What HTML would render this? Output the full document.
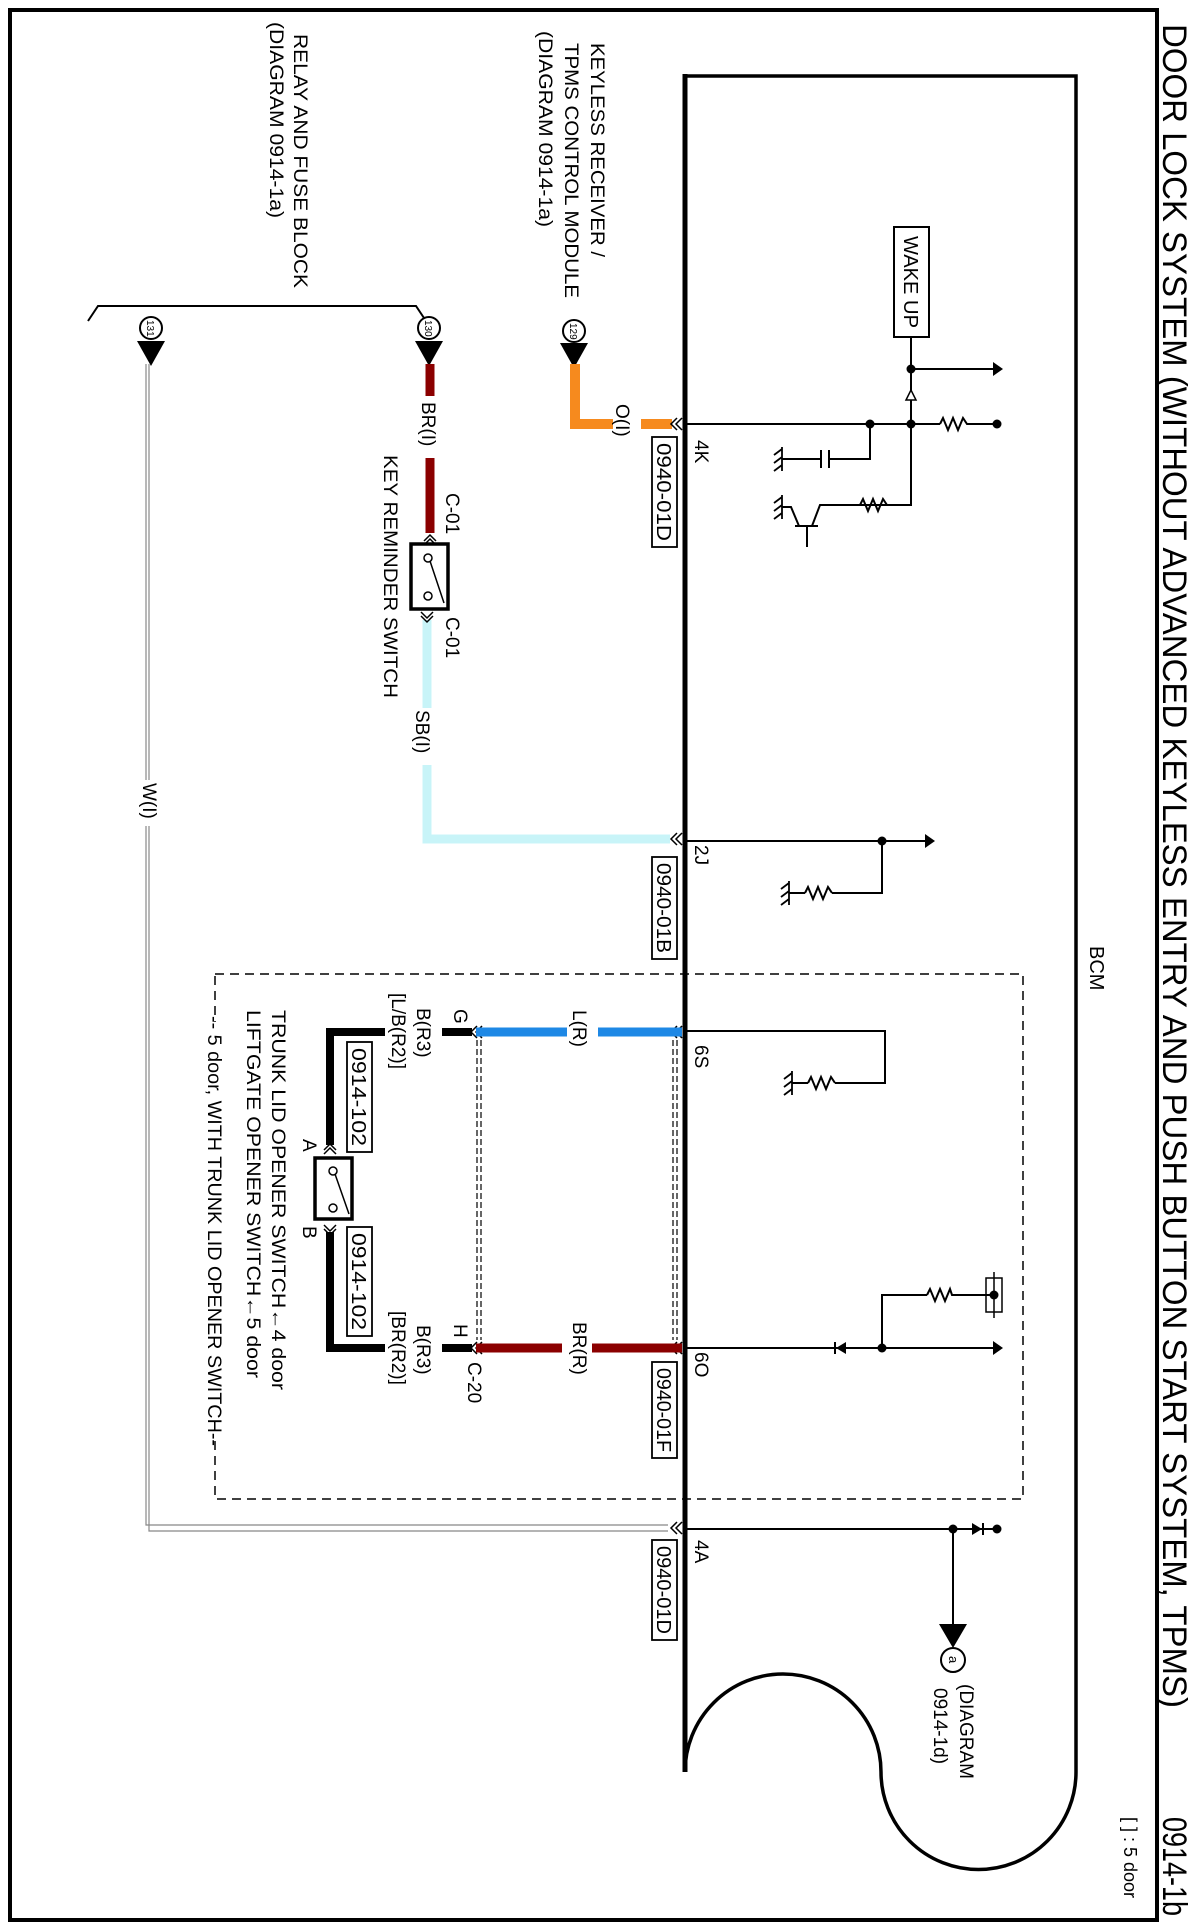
<!DOCTYPE html>
<html><head><meta charset="utf-8"><style>
html,body{margin:0;padding:0;background:#fff}
svg{display:block}
text{font-family:"Liberation Sans",Arial,sans-serif;fill:#000}
</style></head><body>
<svg width="1200" height="1926" viewBox="0 0 1200 1926" xmlns="http://www.w3.org/2000/svg">
<rect x="0" y="0" width="1200" height="1926" fill="#fff"/>
<!-- outer border -->
<rect x="10" y="10" width="1147" height="1910" fill="none" stroke="#000" stroke-width="4"/>
<!-- title -->
<text font-size="34" transform="translate(1163,24) rotate(90)" textLength="1684" lengthAdjust="spacingAndGlyphs">DOOR LOCK SYSTEM (WITHOUT ADVANCED KEYLESS ENTRY AND PUSH BUTTON START SYSTEM, TPMS)</text>
<text font-size="34" transform="translate(1163,1817) rotate(90)" textLength="99" lengthAdjust="spacingAndGlyphs">0914-1b</text>
<text font-size="18" transform="translate(1124,1817) rotate(90)">[ ] : 5 door</text>

<!-- BCM outline -->
<path d="M685,1772 A98,98 0 0 1 881,1772 A97.5,97.5 0 0 0 1076,1772 L1076,76 L685,76" fill="none" stroke="#000" stroke-width="3.5"/>
<line x1="685" y1="74" x2="685" y2="1772" stroke="#000" stroke-width="5"/>
<text font-size="20" transform="translate(1090,946) rotate(90)">BCM</text>

<!-- dashed box -->
<rect x="215" y="974" width="808" height="525" fill="none" stroke="#000" stroke-width="1.5" stroke-dasharray="9,6"/>

<!-- left labels -->
<text font-size="19" transform="translate(294,34) rotate(90)" textLength="254" lengthAdjust="spacingAndGlyphs">RELAY AND FUSE BLOCK</text>
<text font-size="19" transform="translate(270,22) rotate(90)" textLength="196" lengthAdjust="spacingAndGlyphs">(DIAGRAM 0914-1a)</text>
<text font-size="19" transform="translate(591,43) rotate(90)" textLength="214" lengthAdjust="spacingAndGlyphs">KEYLESS RECEIVER /</text>
<text font-size="19" transform="translate(565,43) rotate(90)" textLength="255" lengthAdjust="spacingAndGlyphs">TPMS CONTROL MODULE</text>
<text font-size="19" transform="translate(539,31) rotate(90)" textLength="196" lengthAdjust="spacingAndGlyphs">(DIAGRAM 0914-1a)</text>

<!-- relay bracket -->
<polyline points="88,321 98,306 416,306 426,321" fill="none" stroke="#000" stroke-width="2"/>

<!-- connector circles + arrows -->
<g stroke="#000" stroke-width="2" fill="#fff">
<circle cx="151" cy="328" r="11"/><circle cx="429" cy="328" r="11"/><circle cx="574" cy="331" r="11"/>
</g>
<g font-size="10">
<text transform="translate(147,320) rotate(90)">131</text>
<text transform="translate(425,320) rotate(90)">130</text>
<text transform="translate(570,323) rotate(90)">129</text>
</g>
<polygon points="137,341 165,341 151,366" fill="#000"/>
<polygon points="415,341 443,341 429,366" fill="#000"/>
<polygon points="560,343 588,343 574,368" fill="#000"/>

<!-- W(I) wire -->
<g stroke="#888" stroke-width="1.2" fill="none">
<polyline points="146,364 146,1525 668,1525"/>
<polyline points="149,364 149,1531 668,1531"/>
</g>
<rect x="140" y="780" width="16" height="46" fill="#fff"/>
<text font-size="19" transform="translate(143,783) rotate(90)">W(I)</text>

<!-- orange O(I) -->
<polyline points="575,364 575,424 613,424" fill="none" stroke="#f68a1e" stroke-width="10"/>
<line x1="641" y1="424" x2="672" y2="424" stroke="#f68a1e" stroke-width="10"/>
<text font-size="19" transform="translate(616,404) rotate(90)">O(I)</text>

<!-- key reminder wire -->
<line x1="430" y1="364" x2="430" y2="396" stroke="#8b0000" stroke-width="9"/>
<line x1="430" y1="458" x2="430" y2="533" stroke="#8b0000" stroke-width="9"/>
<text font-size="19" transform="translate(422,402) rotate(90)">BR(I)</text>
<polyline points="427,620 427,708" fill="none" stroke="#c8f4f8" stroke-width="9"/>
<polyline points="427,765 427,839 670,839" fill="none" stroke="#c8f4f8" stroke-width="9"/>
<polyline points="422,620 422,708 M422,765" fill="none"/>
<text font-size="19" transform="translate(416,710) rotate(90)">SB(I)</text>
<!-- key switch -->
<rect x="411" y="544" width="37" height="65" fill="#fff" stroke="#000" stroke-width="3.5"/>
<circle cx="428" cy="558" r="4" fill="#fff" stroke="#000" stroke-width="1.5"/>
<circle cx="428" cy="596" r="4" fill="#fff" stroke="#000" stroke-width="1.5"/>
<line x1="430" y1="561" x2="444" y2="603" stroke="#000" stroke-width="1.5"/>
<path d="M424,541 L430,535 L436,541 M424,545 L430,539 L436,545" fill="none" stroke="#000" stroke-width="1.5"/>
<path d="M421,612 L427,618 L433,612 M421,616 L427,622 L433,616" fill="none" stroke="#000" stroke-width="1.5"/>
<text font-size="19" transform="translate(446,493) rotate(90)">C-01</text>
<text font-size="19" transform="translate(446,617) rotate(90)">C-01</text>
<text font-size="19" transform="translate(384,455) rotate(90)" textLength="243" lengthAdjust="spacingAndGlyphs">KEY REMINDER SWITCH</text>

<!-- BCM-side chevrons -->
<g fill="none" stroke="#000" stroke-width="1.5">
<path d="M682,418 L676,424 L682,430 M677,418 L671,424 L677,430"/>
<path d="M682,833 L676,839 L682,845 M677,833 L671,839 L677,845"/>
<path d="M682,1026 L676,1032 L682,1038 M677,1026 L671,1032 L677,1038"/>
<path d="M682,1342 L676,1348 L682,1354 M677,1342 L671,1348 L677,1354"/>
<path d="M682,1522 L676,1528 L682,1534 M677,1522 L671,1528 L677,1534"/>
<path d="M482,1026 L476,1032 L482,1038 M477,1026 L471,1032 L477,1038"/>
<path d="M482,1342 L476,1348 L482,1354 M477,1342 L471,1348 L477,1354"/>
</g>

<!-- pin labels & boxes -->
<g font-size="19">
<text transform="translate(695,440) rotate(90)">4K</text>
<text transform="translate(695,845) rotate(90)">2J</text>
<text transform="translate(695,1045) rotate(90)">6S</text>
<text transform="translate(695,1352) rotate(90)">6O</text>
<text transform="translate(695,1540) rotate(90)">4A</text>
</g>
<g fill="#fff" stroke="#000" stroke-width="1.8">
<rect x="652" y="437" width="25" height="110"/>
<rect x="652" y="857" width="25" height="102"/>
<rect x="652" y="1362" width="25" height="96"/>
<rect x="652" y="1540" width="25" height="100"/>
<rect x="347" y="1042" width="25" height="110"/>
<rect x="347" y="1227" width="25" height="109"/>
</g>
<g font-size="20">
<text transform="translate(657,443) rotate(90)" textLength="98" lengthAdjust="spacingAndGlyphs">0940-01D</text>
<text transform="translate(657,863) rotate(90)" textLength="90" lengthAdjust="spacingAndGlyphs">0940-01B</text>
<text transform="translate(657,1368) rotate(90)" textLength="84" lengthAdjust="spacingAndGlyphs">0940-01F</text>
<text transform="translate(657,1546) rotate(90)" textLength="88" lengthAdjust="spacingAndGlyphs">0940-01D</text>
<text transform="translate(352,1048) rotate(90)" textLength="98" lengthAdjust="spacingAndGlyphs">0914-102</text>
<text transform="translate(352,1233) rotate(90)" textLength="97" lengthAdjust="spacingAndGlyphs">0914-102</text>
</g>

<!-- trunk wires -->
<line x1="476" y1="1032" x2="567" y2="1032" stroke="#1e88e5" stroke-width="9"/>
<line x1="598" y1="1032" x2="682" y2="1032" stroke="#1e88e5" stroke-width="9"/>
<text font-size="19" transform="translate(573,1010) rotate(90)">L(R)</text>
<line x1="476" y1="1348" x2="562" y2="1348" stroke="#8b0000" stroke-width="9"/>
<line x1="592" y1="1348" x2="682" y2="1348" stroke="#8b0000" stroke-width="9"/>
<text font-size="19" transform="translate(573,1322) rotate(90)">BR(R)</text>
<g fill="none" stroke="#000" stroke-width="1.2" stroke-dasharray="6,3">
<line x1="477" y1="1040" x2="477" y2="1340"/><line x1="481" y1="1040" x2="481" y2="1340"/>
<line x1="673" y1="1040" x2="673" y2="1340"/><line x1="677" y1="1040" x2="677" y2="1340"/>
</g>
<g stroke="#000" stroke-width="8" fill="none">
<line x1="442" y1="1032" x2="472" y2="1032"/>
<line x1="442" y1="1348" x2="472" y2="1348"/>
<polyline points="385,1032 330,1032 330,1145"/>
<polyline points="330,1232 330,1348 385,1348"/>
</g>
<rect x="315" y="1158" width="37" height="61" fill="#fff" stroke="#000" stroke-width="3.5"/>
<circle cx="333" cy="1171" r="4" fill="#fff" stroke="#000" stroke-width="1.5"/>
<circle cx="333" cy="1208" r="4" fill="#fff" stroke="#000" stroke-width="1.5"/>
<line x1="335" y1="1174" x2="349" y2="1214" stroke="#000" stroke-width="1.5"/>
<path d="M324,1150 L330,1144 L336,1150 M324,1154 L330,1148 L336,1154" fill="none" stroke="#000" stroke-width="1.5"/>
<path d="M324,1225 L330,1231 L336,1225 M324,1229 L330,1235 L336,1229" fill="none" stroke="#000" stroke-width="1.5"/>
<g font-size="19">
<text transform="translate(303,1139) rotate(90)">A</text>
<text transform="translate(303,1226) rotate(90)">B</text>
<text transform="translate(454,1009) rotate(90)">G</text>
<text transform="translate(454,1324) rotate(90)">H</text>
<text transform="translate(468,1362) rotate(90)">C-20</text>
<text transform="translate(417,1008) rotate(90)">B(R3)</text>
<text transform="translate(392,993) rotate(90)">[L/B(R2)]</text>
<text transform="translate(417,1325) rotate(90)">B(R3)</text>
<text transform="translate(392,1311) rotate(90)">[BR(R2)]</text>
<text transform="translate(272,1010) rotate(90)" textLength="380" lengthAdjust="spacingAndGlyphs">TRUNK LID OPENER SWITCH←4 door</text>
<text transform="translate(247,1010) rotate(90)" textLength="368" lengthAdjust="spacingAndGlyphs">LIFTGATE OPENER SWITCH←5 door</text>
</g>
<rect x="205" y="1022" width="22" height="418" fill="#fff"/>
<text font-size="19" transform="translate(208,1016) rotate(90)" textLength="430" lengthAdjust="spacingAndGlyphs">-- 5 door, WITH TRUNK LID OPENER SWITCH--</text>

<!-- internal circuits -->
<g fill="none" stroke="#000" stroke-width="2">
<!-- 4K -->
<line x1="685" y1="424" x2="940" y2="424"/>
<polyline points="940,424 943,418 948,430 953,418 958,430 963,418 967,424 997,424"/>
<polyline points="911,337 911,505 887,505"/>
<polyline points="860,505 887,505"/>
<polyline points="860,505 863,499 868,511 873,499 878,511 883,499 887,505"/>
<polyline points="860,505 820,505 812,526"/>
<line x1="795" y1="526" x2="818" y2="526"/>
<line x1="807" y1="526" x2="807" y2="547"/>
<polyline points="799,526 791,507 782,507"/>
<polyline points="870,424 870,459 829,459"/>
<line x1="829" y1="450" x2="829" y2="468"/><line x1="821" y1="450" x2="821" y2="468"/>
<line x1="821" y1="459" x2="782" y2="459"/>
<line x1="911" y1="369" x2="995" y2="369"/>
<!-- 2J -->
<line x1="685" y1="841" x2="928" y2="841"/>
<polyline points="882,841 882,893 832,893"/>
<polyline points="805,893 808,887 813,899 818,887 823,899 828,887 832,893"/>
<line x1="805" y1="893" x2="789" y2="893"/>
<!-- 6S -->
<polyline points="685,1031 885,1031 885,1083 835,1083"/>
<polyline points="808,1083 811,1077 816,1089 821,1077 826,1089 831,1077 835,1083"/>
<line x1="808" y1="1083" x2="792" y2="1083"/>
<!-- 6O -->
<line x1="685" y1="1348" x2="995" y2="1348"/>
<polyline points="882,1348 882,1295 927,1295"/>
<polyline points="927,1295 930,1289 935,1301 940,1289 945,1301 950,1289 952,1295 994,1295"/>
<rect x="986" y="1278" width="16" height="34" stroke-width="1.5"/>
<line x1="994" y1="1272" x2="994" y2="1318" stroke-width="1.5"/>
<!-- 4A -->
<line x1="685" y1="1529" x2="997" y2="1529"/>
<line x1="953" y1="1529" x2="953" y2="1627"/>
</g>
<!-- WAKE UP -->
<rect x="894" y="227" width="35" height="110" fill="#fff" stroke="#000" stroke-width="2"/>
<text font-size="20" transform="translate(904,236) rotate(90)" textLength="92" lengthAdjust="spacingAndGlyphs">WAKE UP</text>
<polygon points="911,390 906,400 916,400" fill="#fff" stroke="#000" stroke-width="1.5"/>
<!-- grounds -->
<g fill="none" stroke="#000" stroke-width="1.8">
<path d="M782,447 L782,471 M782,449 L774,455 M782,457 L774,463 M782,465 L774,471"/>
<path d="M782,495 L782,519 M782,497 L774,503 M782,505 L774,511 M782,513 L774,519"/>
<path d="M789,881 L789,905 M789,883 L781,889 M789,891 L781,897 M789,899 L781,905"/>
<path d="M792,1071 L792,1095 M792,1073 L784,1079 M792,1081 L784,1087 M792,1089 L784,1095"/>
</g>
<!-- dots & arrows -->
<g fill="#000">
<circle cx="870" cy="424" r="4.5"/><circle cx="911" cy="424" r="4.5"/><circle cx="997" cy="424" r="4.5"/>
<circle cx="911" cy="369" r="4.5"/>
<polygon points="993,362 1003,369 993,376"/>
<circle cx="882" cy="841" r="4.5"/>
<polygon points="925,834 935,841 925,848"/>
<circle cx="882" cy="1348" r="4.5"/><circle cx="994" cy="1295" r="4.5"/>
<polygon points="993,1341 1003,1348 993,1355"/>
<polygon points="836,1348 846,1342 846,1354"/><rect x="834" y="1342" width="2" height="12"/>
<circle cx="953" cy="1529" r="4.5"/><circle cx="997" cy="1529" r="4.5"/>
<polygon points="972,1523 982,1529 972,1535"/><rect x="982" y="1523" width="2" height="12"/>
<polygon points="939,1624 967,1624 953,1648"/>
</g>
<circle cx="953" cy="1660" r="12" fill="#fff" stroke="#000" stroke-width="2"/>
<text font-size="13" transform="translate(949,1656) rotate(90)">a</text>
<text font-size="19" transform="translate(960,1684) rotate(90)">(DIAGRAM</text>
<text font-size="19" transform="translate(934,1688) rotate(90)">0914-1d)</text>
</svg>
</body></html>
